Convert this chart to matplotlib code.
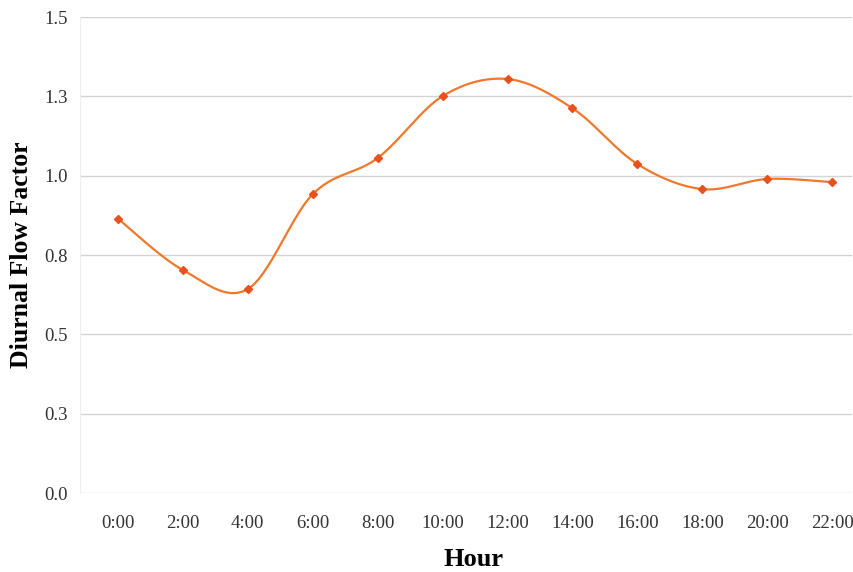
import numpy as np
import matplotlib.pyplot as plt
from decimal import Decimal, ROUND_HALF_UP
from matplotlib.ticker import FixedLocator, FuncFormatter

# -----------------------------------
# DATA
# -----------------------------------

hours = ["0:00", "2:00", "4:00", "6:00", "8:00", "10:00",
         "12:00", "14:00", "16:00", "18:00", "20:00", "22:00"]

flow_factor = [0.865, 0.703, 0.643, 0.942, 1.056, 1.251,
               1.305, 1.213, 1.037, 0.958, 0.990, 0.980]

y_ticks = [0.0, 0.25, 0.5, 0.75, 1.0, 1.25, 1.5]

# -----------------------------------
# SMOOTH LINE (Excel-style bezier)
# -----------------------------------

def smooth(xs, ys, n=30):
    pts = np.column_stack([xs, ys]).astype(float)
    padded = np.vstack([pts[0], pts, pts[-1]])
    out = []
    for i in range(len(pts) - 1):
        p0, p1, p2, p3 = padded[i], padded[i + 1], padded[i + 2], padded[i + 3]
        c1 = p1 + (p2 - p0) / 6.0
        c2 = p2 - (p3 - p1) / 6.0
        t = np.linspace(0, 1, n)[:, None]
        seg = ((1 - t) ** 3) * p1 + 3 * ((1 - t) ** 2) * t * c1 \
            + 3 * (1 - t) * t ** 2 * c2 + t ** 3 * p2
        out.append(seg if i == 0 else seg[1:])
    out = np.vstack(out)
    return out[:, 0], out[:, 1]


def one_decimal(v, pos):
    return str(Decimal(str(v)).quantize(Decimal("0.1"), rounding=ROUND_HALF_UP))


x = np.arange(len(hours))
sx, sy = smooth(x, flow_factor)

# -----------------------------------
# PLOT
# -----------------------------------

plt.rcParams["font.family"] = ["Liberation Serif", "DejaVu Serif"]

fig = plt.figure(figsize=(8.54, 5.72), dpi=100)
ax = fig.add_axes([0.094, 0.138, 0.904, 0.832])

ax.plot(sx, sy, color="#F0782A", linewidth=1.6, zorder=3)
ax.plot(x, flow_factor, linestyle="none", marker="D", markersize=4.5,
        color="#E8501E", zorder=4)

ax.set_xlim(-0.58, 11.31)
ax.set_ylim(0, 1.5)

ax.set_xticks(x)
ax.set_xticklabels(hours)
ax.yaxis.set_major_locator(FixedLocator(y_ticks))
ax.yaxis.set_major_formatter(FuncFormatter(one_decimal))

ax.grid(axis="y", color="#d4d4d4", linewidth=1.0)
ax.set_axisbelow(True)
for s in ["top", "right", "bottom"]:
    ax.spines[s].set_visible(False)
ax.spines["left"].set_color("#eeeeee")
ax.tick_params(axis="both", length=0, labelsize=13.5, colors="#333333", pad=9)
ax.tick_params(axis="x", pad=16)

ax.set_xlabel("Hour", fontsize=19, fontweight="bold")
ax.xaxis.set_label_coords(0.51, -0.115)
ax.set_ylabel("Diurnal Flow Factor", fontsize=18.5, fontweight="bold", labelpad=8)

fig.savefig("out.png", dpi=100)
